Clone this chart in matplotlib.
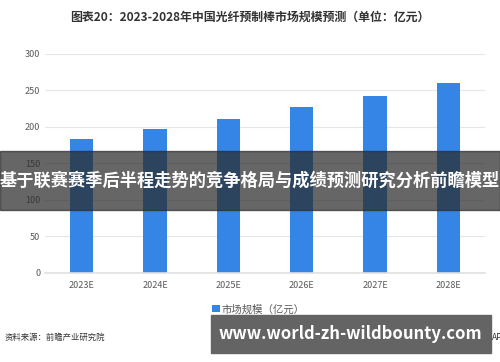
import matplotlib.pyplot as plt
from matplotlib.patches import Rectangle

plt.rcParams['font.family'] = ['Noto Sans CJK SC', 'DejaVu Sans']

# data
years = ["2023E", "2024E", "2025E", "2026E", "2027E", "2028E"]
market_size = [183, 197, 211, 227, 242, 260]
yticks = [0, 50, 100, 150, 200, 250, 300]

fig = plt.figure(figsize=(5, 3.62), dpi=100)
ax = fig.add_axes([0.09, 0.246, 0.88, 0.605])

x = list(range(len(years)))
ax.bar(x, market_size, width=0.32, color="#3585e6", label="市场规模（亿元）", zorder=2)

ax.set_ylim(0, 300)
ax.set_xlim(-0.5, len(years) - 0.5)
ax.set_yticks(yticks)
ax.set_xticks(x)
ax.set_xticklabels(years)
ax.tick_params(axis="both", length=0, labelsize=6.5, colors="#595959")
ax.tick_params(axis="x", pad=6)
ax.grid(axis="y", color="#e6e6e6", linewidth=0.8, zorder=0)
ax.spines[["top", "right", "left"]].set_visible(False)
ax.spines["bottom"].set_color("#e0e0e0")
ax.spines["bottom"].set_linewidth(1.2)

fig.text(0.5, 0.953, "图表20：2023-2028年中国光纤预制棒市场规模预测（单位：亿元）",
         ha="center", va="center", fontsize=8.6, fontweight="bold", color="#333333")

ax.legend(loc="upper center", bbox_to_anchor=(0.485, -0.1), frameon=False,
          fontsize=7.5, handlelength=0.7, handleheight=0.7, handletextpad=0.2,
          labelcolor="#595959")

fig.text(0.01, 0.068, "资料来源：前瞻产业研究院", ha="left", va="center",
         fontsize=6, color="#333333")
fig.text(0.984, 0.068, "APP", ha="left", va="center",
         fontsize=6, color="#333333")

# overlay banners
fig.add_artist(Rectangle((0.0, 0.42), 1.0, 0.163, transform=fig.transFigure,
                         color="#2b2b2b", alpha=0.72, zorder=5))
fig.text(0.5, 0.5, "基于联赛赛季后半程走势的竞争格局与成绩预测研究分析前瞻模型",
         ha="center", va="center", fontsize=12.4, fontweight="bold",
         color="white", zorder=6)

fig.add_artist(Rectangle((0.422, 0.025), 0.56, 0.105, transform=fig.transFigure,
                         color="#646464", zorder=5))
fig.text(0.701, 0.077, "www.world-zh-wildbounty.com", ha="center", va="center",
         fontsize=12, fontweight="bold", color="white", zorder=6)

fig.savefig("out.png", dpi=100)
